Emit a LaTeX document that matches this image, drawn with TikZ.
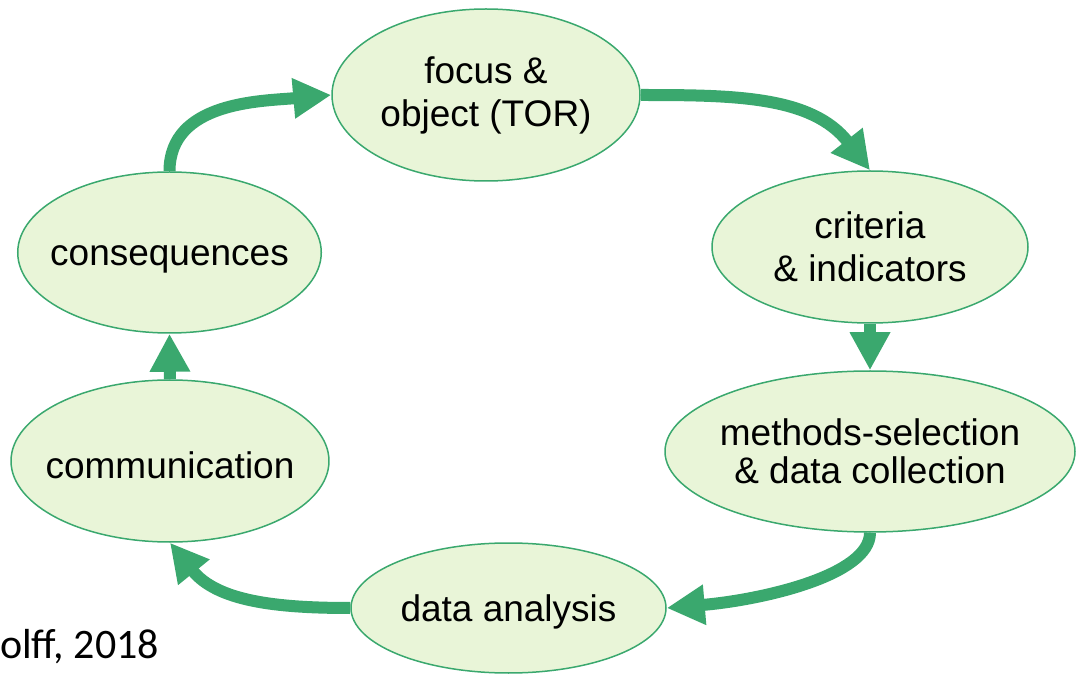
\documentclass[tikz,border=0pt]{standalone}
\usepackage{fontspec}
\setmainfont{Liberation Sans}
\newfontfamily\citefont{Carlito}
\usetikzlibrary{shapes.geometric,arrows.meta,backgrounds}
\definecolor{cyclegreen}{RGB}{58,168,110}
\definecolor{stagefill}{RGB}{233,245,216}
\begin{document}
\begin{tikzpicture}[x=1pt,y=1pt,
  stage/.style={ellipse, draw=cyclegreen, line width=1.5pt, fill=stagefill,
    inner sep=0pt, inner xsep=-12pt, align=center,
    font=\fontsize{37}{43}\selectfont},
  % single-line stages: baseline sits #1 below the ellipse centre
  oneline/.style={text height=#1, text depth=0pt},
  flow/.style={draw=cyclegreen, line width=12pt,
    -{Triangle[length=38pt,width=38pt]}}]
\useasboundingbox (0,0) rectangle (1080,673);

% the six stages of the evaluation cycle
\node[stage, minimum width=308pt, minimum height=172pt] (focus) at (486,578) {focus \&\\object (TOR)};
\node[stage, minimum width=316pt, minimum height=152pt] (crit) at (870,426) {criteria\\\& indicators};
\node[stage, minimum width=410pt, minimum height=161pt, font=\fontsize{37}{38}\selectfont] (meth) at (870,221.5) {methods-selection\\\& data collection};
\node[stage, oneline=27pt, minimum width=315pt, minimum height=130pt] (data) at (508.5,65) {data analysis};
\node[stage, oneline=36pt, minimum width=306pt, minimum height=162pt] (comm) at (170,212) {communication};
\node[stage, oneline=27pt, minimum width=287pt, minimum height=161pt] (cons) at (169.5,420.5) {consequences};

% arrows running clockwise round the cycle
\begin{scope}[on background layer]
\draw[flow] (cons.north) to[out=90,in=185] (focus.west);
\draw[flow] (focus.east) to[out=0,in=128] (crit.north);
\draw[flow] (crit.south) -- (meth.north);
\draw[flow] (meth.south) .. controls +(0,-43) and +(94,8) .. (data.east);
\draw[flow] (data.west) to[out=180,in=-51] (comm.south);
\draw[flow] (comm.north) -- (cons.south);
\end{scope}

% source note
\node[font=\citefont\fontsize{42}{48}\selectfont, anchor=base west, inner sep=0pt] (source) at (0,15) {olff, 2018};
\end{tikzpicture}
\end{document}
